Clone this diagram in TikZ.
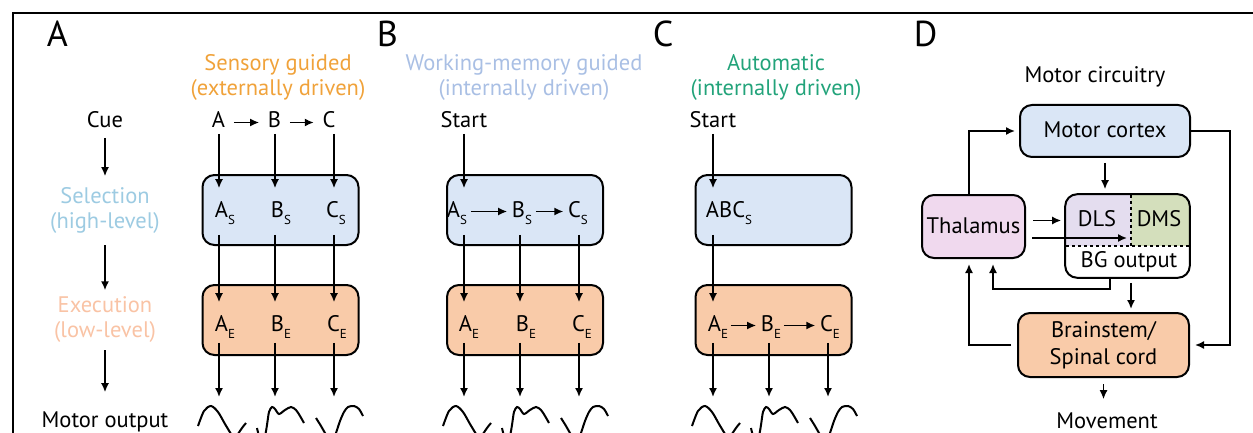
\documentclass[tikz,border=0pt]{standalone}
\usepackage{fontspec}
\setmainfont{PT Sans}
\usetikzlibrary{arrows.meta, positioning}

\definecolor{selfill}{HTML}{DAE6F6}
\definecolor{exefill}{HTML}{F9CBA9}
\definecolor{thalfill}{HTML}{F0D9EE}
\definecolor{dlsfill}{HTML}{E4DDEF}
\definecolor{dmsfill}{HTML}{D4DFBC}
\definecolor{sensecol}{HTML}{F0A23A}
\definecolor{wmcol}{HTML}{A9BFE4}
\definecolor{autocol}{HTML}{22A37A}
\definecolor{selcol}{HTML}{9DCBE2}
\definecolor{execol}{HTML}{F9C3A5}

\newcommand{\lo}[1]{\raisebox{-7pt}{\fontsize{13}{13}\selectfont #1}}
\tikzset{>={Latex[length=9pt,width=8pt]}}

\begin{document}
\begin{tikzpicture}[x=1pt, y=-1pt, line width=1.6pt,
    txt/.style={inner sep=0pt, font=\fontsize{22.5}{25.5}\selectfont, text height=15pt, text depth=4pt, anchor=base},
    two/.style={inner sep=0pt, font=\fontsize{22.5}{25.5}\selectfont, align=center, anchor=base},
    panel/.style={inner sep=0pt, font=\fontsize{36}{36}\selectfont, anchor=base west},
    box/.style={draw, line width=2pt, rounded corners=12pt, minimum width=156pt, minimum height=70pt, inner sep=0pt},
    dbox/.style={draw, line width=2pt, rounded corners=12pt, inner sep=0pt, font=\fontsize{22.5}{27}\selectfont},
    one/.style={text height=15pt, text depth=2pt}]
    \useasboundingbox (0,0) rectangle (1253,433);
    \draw[line width=2.5pt] (13,433) -- (13,13) -- (1253,13);

    % panel letters
    \node[panel] (pa) at (46,47) {A};
    \node[panel] (pb) at (376,47) {B};
    \node[panel] (pc) at (652,47) {C};
    \node[panel] (pd) at (913,47) {D};

    % left column
    \node[txt] (cue) at (105,128) {Cue};
    \node[two, text=selcol] (sel) at (105,228.5) {Selection\\(high-level)};
    \node[two, text=execol] (exe) at (105,337.5) {Execution\\(low-level)};
    \node[txt] (mout) at (105,427) {Motor output};
    \draw[->, shorten <=5pt, shorten >=10pt] (cue) -- (sel);
    \draw[->, shorten <=11pt, shorten >=5pt] (sel) -- (exe);
    \draw[->, shorten <=7pt, shorten >=19pt] (exe) -- (mout);

    % titles
    \node[two, text=sensecol] (tsense) at (278,96) {Sensory guided\\(externally driven)};
    \node[two, text=wmcol] (twm) at (524,96) {Working-memory guided\\(internally driven)};
    \node[two, text=autocol] (tauto) at (776,96) {Automatic\\(internally driven)};

    % boxes
    \foreach \p/\x in {A/280.5, B/525, C/773.5}
    {
        \node[box, fill=selfill] (sel\p) at (\x,210) {};
        \node[box, fill=exefill] (exe\p) at (\x,320) {};
    }

    % columns
    \foreach \p/\x in {a/219, b/464, c/713}
    {
        \coordinate (\p w1) at (\x,397);
        \coordinate (\p w2) at (\x+56,397);
        \coordinate (\p w3) at (\x+115,397);
    }

    % A
    \node[txt] (a1) at (218.5,128) {A};
    \node[txt] (a2) at (274.5,128) {B};
    \node[txt] (a3) at (329,128) {C};
    \draw[->, shorten <=8pt, shorten >=8pt] (a1) -- (a2);
    \draw[->, shorten <=8pt, shorten >=8pt] (a2) -- (a3);
    \node[txt] (as1) at (225,217) {A\lo{S}};
    \node[txt] (as2) at (281,217) {B\lo{S}};
    \node[txt] (as3) at (336,217) {C\lo{S}};
    \node[txt] (ae1) at (225,331) {A\lo{E}};
    \node[txt] (ae2) at (281,331) {B\lo{E}};
    \node[txt] (ae3) at (337,331) {C\lo{E}};

    % B
    \node[txt] (startB) at (464,128) {Start};
    \node[txt] (bs1) at (457,217) {A\lo{S}};
    \node[txt] (bs2) at (522,217) {B\lo{S}};
    \node[txt] (bs3) at (578,217) {C\lo{S}};
    \draw[->, shorten <=3pt, shorten >=4pt] (bs1) -- (bs2);
    \draw[->, shorten <=3pt, shorten >=4pt] (bs2) -- (bs3);
    \node[txt] (be1) at (469,331) {A\lo{E}};
    \node[txt] (be2) at (526,331) {B\lo{E}};
    \node[txt] (be3) at (582,331) {C\lo{E}};

    % C
    \node[txt] (startC) at (713,128) {Start};
    \node[txt] (cs) at (729,217) {ABC\lo{S}};
    \node[txt] (ce1) at (718,331) {A\lo{E}};
    \node[txt] (ce2) at (771,331) {B\lo{E}};
    \node[txt] (ce3) at (830,331) {C\lo{E}};
    \draw[->, shorten <=2pt, shorten >=4pt] (ce1) -- (ce2);
    \draw[->, shorten <=2pt, shorten >=4pt] (ce2) -- (ce3);

    \foreach \u/\s/\w in {a1/as1/aw1, a2/as2/aw2, a3/as3/aw3, startB/bs1/bw1, startC/cs/cw1}
        \draw[->, shorten <=1pt, shorten >=13pt] (\w |- \u.south) -- (\w |- \s.north);
    \foreach \s/\e/\w in {as1/ae1/aw1, as2/ae2/aw2, as3/ae3/aw3, bs1/be1/bw1, bs2/be2/bw2, bs3/be3/bw3, cs/ce1/cw1}
        \draw[->, shorten <=13pt, shorten >=13pt] (\w |- \s.south) -- (\w |- \e.north);
    \foreach \e/\w in {ae1/aw1, ae2/aw2, ae3/aw3, be1/bw1, be2/bw2, be3/bw3, ce1/cw1, ce2/cw2, ce3/cw3}
        \draw[->, shorten <=7pt] (\w |- \e.south) -- (\w);

    % motor output
    \begin{scope}
        \clip (13,13) rectangle (1253,433);
        \foreach \x in {219, 464, 713}
        {
            \begin{scope}[xshift=\x pt, line width=2pt]
                \draw plot[smooth] coordinates {(-21,426) (-15,411) (-8,406) (-1,412) (6,424) (12,434) (15.5,440) (19,434) (23,428) (27,423)};
                \draw plot[smooth] coordinates {(38,428) (40,436) (43,441) (46,436) (48,425) (50,412) (53,407) (56,409) (60,414) (66,410) (72,407) (77,410) (81,416) (85,423)};
                \draw plot[smooth] coordinates {(97,418) (102,426) (106,433) (111,441) (114,441) (117,433) (121,421) (125,412) (129,407) (135,406) (140,409) (144,416)};
            \end{scope}
        }
    \end{scope}

    % D
    \node[txt] (mcirc) at (1095,83) {Motor circuitry};
    \node[dbox, one, fill=selfill, minimum width=170pt, minimum height=52pt] (mc) at (1105,131) {Motor cortex};
    \node[dbox, one, fill=thalfill, minimum width=103pt, minimum height=63pt] (thal) at (973.5,226.5) {Thalamus};
    \node[minimum width=123pt, minimum height=82pt, inner sep=0pt] (bg) at (1127.5,236) {};
    \node[dbox, fill=exefill, align=center, minimum width=171pt, minimum height=64pt] (bs) at (1103.5,345) {Brainstem/\\Spinal cord};
    \coordinate (dsplit) at (1131,195);
    \coordinate (dmid) at (1066,246);
    \begin{scope}
        \clip[rounded corners=12pt] (bg.north west) rectangle (bg.south east);
        \fill[dlsfill] (bg.north west) rectangle (dsplit |- dmid);
        \fill[dmsfill] (dsplit) rectangle (dmid -| bg.east);
    \end{scope}
    \draw[dashed, line width=1.2pt] (dsplit) -- (dsplit |- dmid);
    \draw[dashed, line width=1.2pt] (dmid) -- (dmid -| bg.east);
    \draw[line width=2pt, rounded corners=12pt] (bg.north west) rectangle (bg.south east);
    \node[txt] (dls) at (1097,226) {DLS};
    \node[txt] (dms) at (1159,226) {DMS};
    \node[txt] (bgo) at (1129,267) {BG output};
    \node[txt] (mov) at (1107,428) {Movement};

    \coordinate (rbus) at (1230,131);
    \coordinate (lbus) at (993,289);
    \coordinate (dlow) at (1025,238);
    \draw[->, shorten >=4pt] ([xshift=-4.5pt]thal.north) |- (mc);
    \draw[->, shorten >=5pt] (mc) -- (rbus) |- (bs);
    \draw[->, shorten <=5pt, shorten >=5pt] (mc) -- (mc |- bg.north);
    \draw[->, shorten <=7pt, shorten >=4pt] (thal.east |- dls) -- (bg.west |- dls);
    \draw[->, shorten <=7pt, shorten >=4pt] (dlow) -- (dlow -| dsplit);
    \draw[->, shorten >=5pt] ([xshift=-17.5pt]bg.south) |- (lbus) -- (lbus |- thal.south);
    \draw[->, shorten <=5pt, shorten >=3pt] (dsplit |- bg.south) -- (dsplit |- bs.north);
    \draw[->, shorten <=6pt, shorten >=5pt] (bs) -| ([xshift=-4.5pt]thal.south);
    \draw[->, shorten <=6pt, shorten >=13pt] (bs.south) -- (bs.south |- mov.north);
\end{tikzpicture}
\end{document}
